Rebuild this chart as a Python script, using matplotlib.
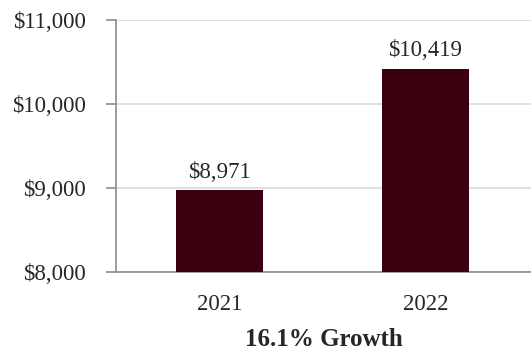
import matplotlib
matplotlib.use("Agg")
import matplotlib.pyplot as plt
from matplotlib.ticker import FuncFormatter

years = ["2021", "2022"]
values = [8971, 10419]
y_ticks = [8000, 9000, 10000, 11000]
growth_label = "16.1% Growth"

BAR = "#3a0010"
SPINE = "#8c8c8c"
GRID = "#d9d9d9"
INK = "#262626"

plt.rcParams["font.family"] = ["Liberation Serif", "DejaVu Serif"]

fig = plt.figure(figsize=(5.31, 3.5), dpi=100)
ax = fig.add_axes([116 / 531, 1 - 272 / 350, 415 / 531, 252 / 350])

x = list(range(len(years)))
ax.bar(x, values, width=0.42, color=BAR, zorder=3)
for xi, v in zip(x, values):
    ax.annotate(f"${v:,.0f}", (xi, v), xytext=(0, 5.5),
                textcoords="offset points", ha="center", va="bottom",
                fontsize=16.5, color=INK)

ax.set_ylim(y_ticks[0], y_ticks[-1])
ax.set_xlim(-0.502, 1.512)
ax.set_yticks(y_ticks)
ax.yaxis.set_major_formatter(FuncFormatter(lambda v, _: f"${v:,.0f}"))
ax.set_xticks(x)
ax.set_xticklabels(years)

ax.yaxis.grid(True, color=GRID, linewidth=1.2, zorder=0)
ax.set_axisbelow(True)
for side in ("top", "right"):
    ax.spines[side].set_visible(False)
for side in ("left", "bottom"):
    ax.spines[side].set_color(SPINE)
    ax.spines[side].set_linewidth(1.2)

ax.tick_params(axis="y", length=7.5, width=1.2, color=SPINE, pad=14,
               labelsize=16.5, labelcolor=INK)
ax.tick_params(axis="x", length=0, pad=16, labelsize=16.5, labelcolor=INK)

ax.set_xlabel(growth_label, fontsize=18, fontweight="bold", color=INK,
              labelpad=9)

fig.savefig("out.png", dpi=100, facecolor="white")
